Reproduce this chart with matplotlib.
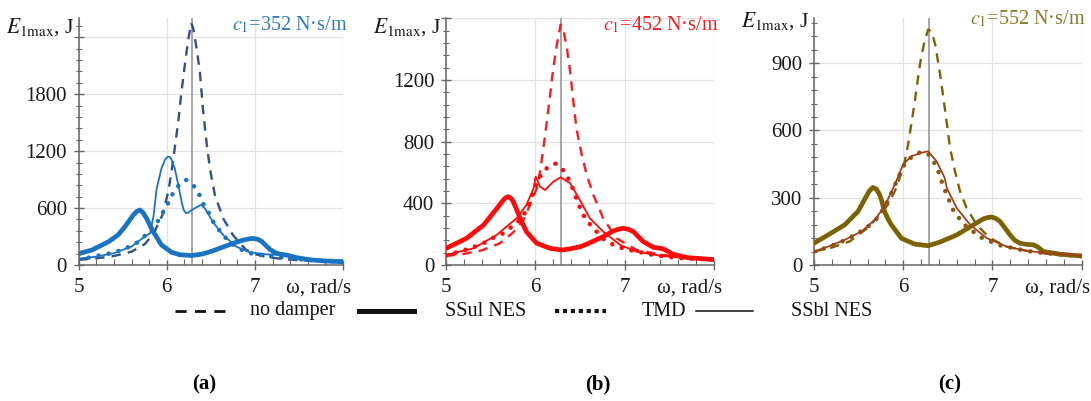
import matplotlib
matplotlib.use("Agg")
import matplotlib.pyplot as plt
from matplotlib.lines import Line2D
from matplotlib.ticker import MultipleLocator
import numpy as np

plt.rcParams['font.family'] = ['Liberation Serif', 'DejaVu Serif']
plt.rcParams['mathtext.fontset'] = 'stix'

W, H = 1091, 401

# ---- panel (a), c1 = 352 N*s/m ----
a_nd_x = [5.0, 5.2, 5.4, 5.6, 5.75, 5.85, 5.95, 6.016, 6.054, 6.09, 6.13, 6.167, 6.205, 6.24, 6.277,
          6.30, 6.338, 6.375, 6.413, 6.45, 6.489, 6.545, 6.64, 6.75, 6.9, 7.0, 7.13, 7.3, 7.5, 7.75, 8.0]
a_nd_y = [55, 70, 95, 140, 220, 330, 527, 770, 985, 1230, 1510, 1830, 2110, 2355, 2550,
          2496, 2285, 2038, 1620, 1300, 1020, 740, 490, 316, 160, 115, 85, 65, 50, 40, 32]

a_ul_x = [5.0, 5.15, 5.34, 5.45, 5.525, 5.58, 5.62, 5.66, 5.695, 5.73, 5.77, 5.846, 5.94, 6.054, 6.15,
          6.28, 6.4, 6.51, 6.6, 6.75, 6.866, 6.93, 6.98, 7.03, 7.075, 7.12, 7.17, 7.22, 7.28, 7.36,
          7.47, 7.62, 7.8, 8.0]
a_ul_y = [120, 158, 246, 320, 404, 475, 527, 565, 580, 553, 492, 351, 211, 134, 108,
          100, 115, 145, 176, 228, 262, 275, 280, 272, 250, 210, 165, 135, 115, 105,
          78, 55, 42, 35]

a_bl_x = [5.0, 5.2, 5.4, 5.6, 5.75, 5.81, 5.85, 5.884, 5.94, 5.98, 6.01, 6.03, 6.05, 6.09, 6.13,
          6.17, 6.19, 6.215, 6.24, 6.26, 6.32, 6.39, 6.43, 6.47, 6.525, 6.64, 6.79, 6.94, 7.13, 7.3,
          7.5, 7.75, 8.0]
a_bl_y = [68, 88, 125, 195, 300, 334, 520, 800, 1020, 1110, 1140, 1142, 1120, 1020, 845,
          660, 585, 548, 550, 565, 600, 635, 600, 540, 450, 316, 193, 134, 113, 105,
          70, 48, 38]

a_tmd_x = [5.0, 5.11, 5.22, 5.34, 5.45, 5.56, 5.66, 5.75, 5.82, 5.9, 5.96, 6.016, 6.07, 6.14, 6.22,
           6.3, 6.37, 6.42, 6.47, 6.53, 6.64, 6.79, 6.94, 7.1, 7.3, 7.5, 7.75, 8.0]
a_tmd_y = [62, 77, 98, 119, 148, 187, 235, 306, 370, 464, 560, 655, 756, 844, 896,
           844, 738, 633, 560, 450, 310, 185, 125, 100, 80, 60, 45, 35]

# ---- panel (b), c1 = 452 N*s/m ----
b_nd_x = [5.0, 5.2, 5.4, 5.6, 5.75, 5.866, 5.94, 6.016, 6.053, 6.09, 6.128, 6.165, 6.2, 6.24, 6.284,
          6.32, 6.355, 6.39, 6.426, 6.46, 6.52, 6.576, 6.65, 6.76, 6.91, 7.135, 7.43, 7.7, 8.0]
b_nd_y = [58, 72, 95, 140, 210, 292, 389, 497, 605, 757, 929, 1100, 1275, 1426, 1560,
          1510, 1400, 1253, 1059, 886, 713, 583, 454, 303, 173, 97, 65, 45, 35]

b_ul_x = [5.0, 5.23, 5.42, 5.57, 5.64, 5.67, 5.698, 5.73, 5.754, 5.79, 5.83, 5.9, 6.016, 6.165,
          6.295, 6.39, 6.5, 6.576, 6.76, 6.87, 6.93, 6.985, 7.04, 7.1, 7.15, 7.21, 7.32, 7.43, 7.545,
          7.7, 8.0]
b_ul_y = [108, 173, 259, 367, 420, 437, 443, 432, 410, 360, 303, 216, 141, 108,
          97, 105, 118, 135, 184, 220, 232, 238, 232, 216, 185, 151, 115, 105, 69,
          48, 35]

b_bl_x = [5.0, 5.306, 5.567, 5.79, 5.9, 5.98, 6.004, 6.053, 6.11, 6.2, 6.284, 6.39, 6.5, 6.61,
          6.76, 6.95, 7.135, 7.4, 7.7, 8.0]
b_bl_y = [65, 108, 195, 303, 389, 497, 573, 508, 486, 540, 569, 530, 420, 303,
          216, 130, 86, 60, 45, 35]

b_tmd_x = [5.0, 5.12, 5.23, 5.344, 5.456, 5.55, 5.64, 5.735, 5.85, 5.92, 5.98, 6.02, 6.08, 6.15,
           6.23, 6.32, 6.39, 6.46, 6.53, 6.61, 6.76, 6.91, 7.06, 7.32, 7.6, 8.0]
b_tmd_y = [62, 82, 101, 123, 151, 184, 205, 248, 303, 380, 475, 540, 600, 640,
           658, 610, 540, 430, 330, 265, 170, 119, 97, 65, 45, 35]

# ---- panel (c), c1 = 552 N*s/m ----
c_nd_x = [5.0, 5.2, 5.4, 5.6, 5.75, 5.83, 5.905, 5.96, 6.017, 6.054, 6.09, 6.13, 6.166, 6.2, 6.24,
          6.28, 6.32, 6.36, 6.413, 6.45, 6.49, 6.525, 6.58, 6.637, 6.71, 6.824, 6.97, 7.16, 7.46,
          7.75, 8.0]
c_nd_y = [60, 78, 105, 165, 230, 270, 328, 388, 463, 537, 627, 731, 836, 925, 1000,
          1050, 1040, 980, 851, 746, 627, 522, 418, 328, 254, 179, 120, 82, 57,
          45, 38]

c_ul_x = [5.0, 5.157, 5.344, 5.493, 5.586, 5.62, 5.66, 5.70, 5.736, 5.76, 5.79, 5.83, 5.867, 5.98,
          6.13, 6.28, 6.41, 6.6, 6.786, 6.9, 6.94, 6.99, 7.04, 7.085, 7.14, 7.197, 7.25, 7.31, 7.38,
          7.46, 7.51, 7.57, 7.76, 8.0]
c_ul_y = [97, 134, 179, 239, 306, 330, 346, 338, 313, 285, 239, 205, 179, 119,
          93, 86, 102, 134, 179, 206, 211, 214, 207, 194, 165, 134, 110, 97, 92,
          90, 80, 60, 48, 40]

c_bl_x = [5.0, 5.157, 5.344, 5.53, 5.68, 5.79, 5.905, 5.998, 6.09, 6.2, 6.278, 6.373, 6.41, 6.465,
          6.488, 6.6, 6.75, 6.936, 7.16, 7.38, 7.7, 8.0]
c_bl_y = [60, 82, 112, 149, 201, 261, 358, 448, 485, 500, 507, 463, 433, 388,
          343, 254, 179, 120, 82, 63, 50, 43]

c_tmd_x = [5.0, 5.1, 5.2, 5.3, 5.4, 5.5, 5.6, 5.7, 5.8, 5.9, 6.0, 6.1, 6.2, 6.28, 6.373, 6.45,
           6.56, 6.67, 6.86, 7.08, 7.38, 7.7, 8.0]
c_tmd_y = [60, 72, 86, 102, 122, 143, 170, 205, 262, 350, 440, 485, 505, 495, 441, 350,
           245, 185, 125, 88, 63, 48, 40]

panels = [
    dict(nd=(a_nd_x, a_nd_y), ul=(a_ul_x, a_ul_y), bl=(a_bl_x, a_bl_y), tmd=(a_tmd_x, a_tmd_y),
         c_main='#1a73c4', c_nd='#34508c', c_bl='#1a73c4', c_tmd='#1a73c4', c_title='#2a7bc4',
         title='352', ymax=2600, ystep=600, yminor=120, ylabels=[0, 600, 1200, 1800], tag='(a)',
         left=78.7, right=343.0, ty=0.965, tagx=204),
    dict(nd=(b_nd_x, b_nd_y), ul=(b_ul_x, b_ul_y), bl=(b_bl_x, b_bl_y), tmd=(b_tmd_x, b_tmd_y),
         c_main='#ff0a0a', c_nd='#ff1a1a', c_bl='#ff0a0a', c_tmd='#ff0a0a', c_title='#ff1a1a',
         title='452', ymax=1600, ystep=400, yminor=80, ylabels=[0, 400, 800, 1200], tag='(b)',
         left=446.0, right=714.0, ty=0.965, tagx=598),
    dict(nd=(c_nd_x, c_nd_y), ul=(c_ul_x, c_ul_y), bl=(c_bl_x, c_bl_y), tmd=(c_tmd_x, c_tmd_y),
         c_main='#7d6205', c_nd='#7d6205', c_bl='#a3401c', c_tmd='#8a5c12', c_title='#8a7a2c',
         title='552', ymax=1100, ystep=300, yminor=60, ylabels=[0, 300, 600, 900], tag='(c)',
         left=814.0, right=1081.7, ty=0.99, tagx=950),
]

fig = plt.figure(figsize=(W / 100, H / 100), dpi=100)
y_bot, y_top = 265.0, 18.3

for p in panels:
    ax = fig.add_axes([p['left'] / W, 1 - y_bot / H, (p['right'] - p['left']) / W, (y_bot - y_top) / H])
    ax.set_xlim(5, 8)
    ax.set_ylim(0, p['ymax'])

    ax.axvline(2 * np.pi, color='#a0a0a0', lw=1.3, zorder=1)
    ax.plot(*p['nd'], color=p['c_nd'], lw=1.7, ls=(0, (4, 3)), zorder=3)
    ax.plot(*p['ul'], color=p['c_main'], lw=3.4, solid_capstyle='round', solid_joinstyle='round',
            zorder=4)
    ax.plot(*p['tmd'], color=p['c_tmd'], lw=3.3, ls=(0, (0.01, 2.2)), dash_capstyle='round', zorder=3)
    ax.plot(*p['bl'], color=p['c_bl'], lw=1.3, solid_joinstyle='round', zorder=5)

    yt = list(np.arange(0, p['ymax'] + 1, p['ystep']))
    ax.set_yticks(yt)
    ax.set_yticklabels([str(int(v)) if v in p['ylabels'] else '' for v in yt])
    ax.yaxis.set_minor_locator(MultipleLocator(p['yminor']))
    ax.set_xticks([5, 6, 7, 8])
    ax.set_xticklabels(['5', '6', '7', ''])
    ax.xaxis.set_minor_locator(MultipleLocator(0.2))
    ax.grid(True, which='major', color='#e2e2e2', lw=0.9, zorder=0)
    ax.set_axisbelow(True)

    for s in ['top', 'right']:
        ax.spines[s].set_visible(False)
    for s in ['left', 'bottom']:
        ax.spines[s].set_color('#666666')
        ax.spines[s].set_linewidth(1.1)
    ax.tick_params(axis='y', which='major', direction='inout', length=7, width=1, colors='#666666',
                   labelcolor='#1a1a1a', labelsize=15, pad=5)
    ax.tick_params(axis='y', which='minor', direction='inout', length=5, width=0.8, colors='#666666')
    ax.tick_params(axis='x', which='major', direction='inout', length=7, width=1, colors='#666666',
                   labelcolor='#1a1a1a', labelsize=15, pad=6)
    ax.tick_params(axis='x', which='minor', direction='in', length=4, width=0.8, colors='#666666')

    ax.text(1.03, -0.093, 'ω, rad/s', transform=ax.transAxes, ha='right', va='center',
            fontsize=15, color='#1a1a1a')
    ax.text(-0.018, p['ty'], r'$E_{\mathrm{1max}}$, J', transform=ax.transAxes, ha='right', va='center',
            fontsize=15.5, color='#1a1a1a')
    ax.text(1.015, p['ty'] + 0.008, r'$c_{\mathit{1}}$=' + p['title'] + ' N·s/m', transform=ax.transAxes,
            ha='right', va='center', fontsize=14.5, color=p['c_title'])

    fig.text(p['tagx'] / W, 1 - 384 / H, p['tag'], ha='center', va='center',
             fontsize=15, fontweight='bold')

# legend row drawn in figure pixels
ly = 1 - 311 / H
leg = [
    ((175, 232), dict(lw=2.0, ls=(0, (4, 3))), 250, 'no damper'),
    ((359, 414), dict(lw=3.6), 445, 'SSul NES'),
    ((555, 606), dict(lw=3.0, ls=(0, (1, 0.9))), 642, 'TMD'),
    ((696, 753), dict(lw=1.1), 791, 'SSbl NES'),
]
for (x0, x1), kw, tx, label in leg:
    fig.add_artist(Line2D([x0 / W, x1 / W], [ly, ly], transform=fig.transFigure, color='#111111', **kw))
    fig.text(tx / W, ly, label, ha='left', va='center', fontsize=14.5, color='#111111')

fig.savefig('out.png', dpi=100)
